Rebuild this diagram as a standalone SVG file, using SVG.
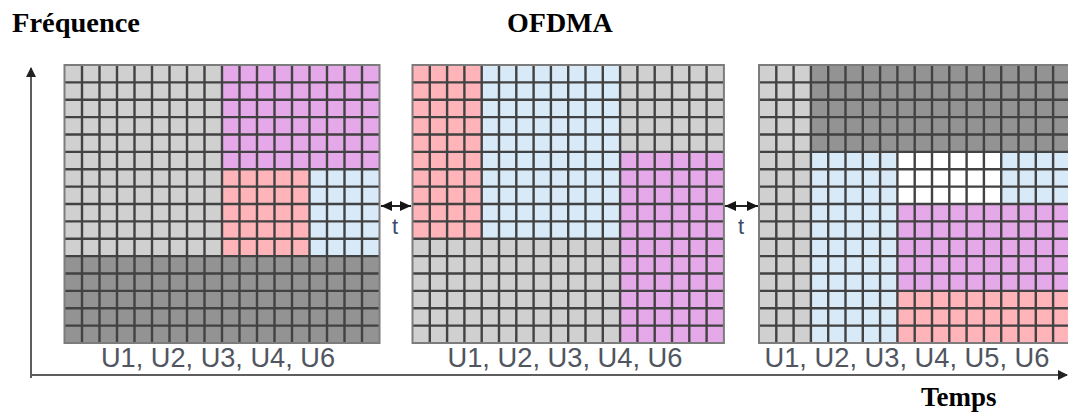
<svg xmlns="http://www.w3.org/2000/svg" width="1068" height="412" viewBox="0 0 1068 412">
<style>
.title{font-family:"Liberation Serif","Times New Roman",serif;font-weight:bold;fill:#000}
.lbl{font-family:"Liberation Sans",Arial,sans-serif;font-size:27px;fill:#50555f}
.t{font-family:"Liberation Sans",Arial,sans-serif;font-size:22px;fill:#3b4a6b}
.lg{fill:#d0d0d0}.dg{fill:#939393}.mg{fill:#e5a9e9}.pk{fill:#feb4b8}.lb{fill:#d8eaf8}.wh{fill:#fff}
.gl{fill:none;stroke:#424242;stroke-width:2.4}
.bd{fill:none;stroke:#7c7c7c;stroke-width:2}
.ax{fill:none;stroke:#5e5e5e;stroke-width:2}
.ta{fill:none;stroke:#222;stroke-width:2}
</style>
<defs>
<marker id="ah" viewBox="0 0 10 10" refX="9" refY="5" markerWidth="10" markerHeight="10" markerUnits="userSpaceOnUse" orient="auto-start-reverse"><path d="M0,0L10,5L0,10z" fill="#222"/></marker>
<marker id="th" viewBox="0 0 10 10" refX="10" refY="5" markerWidth="14" markerHeight="11" markerUnits="userSpaceOnUse" orient="auto-start-reverse"><path d="M0,0.5L10,5L0,9.5z" fill="#151515"/></marker>
</defs>
<rect width="1068" height="412" fill="#fff"/>
<text class="title" x="12" y="32" font-size="28" textLength="128" lengthAdjust="spacingAndGlyphs">Fréquence</text>
<text class="title" x="507" y="32" font-size="28">OFDMA</text>
<text class="title" x="921" y="406" font-size="27">Temps</text>

<g id="frame1">
<rect class="lg" x="64.5" y="65" width="157.5" height="191.1"/>
<rect class="mg" x="222" y="65" width="157.5" height="104.25"/>
<rect class="pk" x="222" y="169.25" width="87.5" height="86.9"/>
<rect class="lb" x="309.5" y="169.25" width="70" height="86.9"/>
<rect class="dg" x="64.5" y="256.1" width="315" height="86.9"/>
<path class="gl" d="M82,65V343M99.5,65V343M117,65V343M134.5,65V343M152,65V343M169.5,65V343M187,65V343M204.5,65V343M222,65V343M239.5,65V343M257,65V343M274.5,65V343M292,65V343M309.5,65V343M327,65V343M344.5,65V343M362,65V343M64.5,82.4H379.5M64.5,99.8H379.5M64.5,117.1H379.5M64.5,134.5H379.5M64.5,151.9H379.5M64.5,169.3H379.5M64.5,186.6H379.5M64.5,204H379.5M64.5,221.4H379.5M64.5,238.8H379.5M64.5,256.1H379.5M64.5,273.5H379.5M64.5,290.9H379.5M64.5,308.3H379.5M64.5,325.6H379.5"/>
<rect class="bd" x="64.5" y="65" width="315" height="278"/>
<text class="lbl" x="218" y="367" text-anchor="middle" textLength="234" lengthAdjust="spacingAndGlyphs">U1, U2, U3, U4, U6</text>
</g>

<g id="frame2">
<rect class="pk" x="412.5" y="65" width="69.2" height="173.8"/>
<rect class="lb" x="481.7" y="65" width="138.4" height="173.8"/>
<rect class="lg" x="412.5" y="238.8" width="207.6" height="104.2"/>
<rect class="lg" x="620.1" y="65" width="103.8" height="86.9"/>
<rect class="mg" x="620.1" y="151.9" width="103.8" height="191.1"/>
<path class="gl" d="M429.8,65V343M447.1,65V343M464.4,65V343M481.7,65V343M499,65V343M516.3,65V343M533.6,65V343M550.9,65V343M568.2,65V343M585.5,65V343M602.8,65V343M620.1,65V343M637.4,65V343M654.7,65V343M672,65V343M689.3,65V343M706.6,65V343M412.5,82.4H723.9M412.5,99.8H723.9M412.5,117.1H723.9M412.5,134.5H723.9M412.5,151.9H723.9M412.5,169.3H723.9M412.5,186.6H723.9M412.5,204H723.9M412.5,221.4H723.9M412.5,238.8H723.9M412.5,256.1H723.9M412.5,273.5H723.9M412.5,290.9H723.9M412.5,308.3H723.9M412.5,325.6H723.9"/>
<rect class="bd" x="412.5" y="65" width="311.4" height="278"/>
<text class="lbl" x="565" y="367" text-anchor="middle" textLength="235" lengthAdjust="spacingAndGlyphs">U1, U2, U3, U4, U6</text>
</g>

<g id="frame3">
<rect class="lg" x="759" y="65" width="51.9" height="278"/>
<rect class="dg" x="810.9" y="65" width="259.5" height="86.9"/>
<rect class="lb" x="810.9" y="151.9" width="86.5" height="191.1"/>
<rect class="wh" x="897.4" y="151.9" width="103.8" height="52.1"/>
<rect class="lb" x="1001.2" y="151.9" width="69.2" height="52.1"/>
<rect class="mg" x="897.4" y="204" width="173" height="86.9"/>
<rect class="pk" x="897.4" y="290.9" width="173" height="52.1"/>
<path class="gl" d="M776.3,65V343M793.6,65V343M810.9,65V343M828.2,65V343M845.5,65V343M862.8,65V343M880.1,65V343M897.4,65V343M914.7,65V343M932,65V343M949.3,65V343M966.6,65V343M983.9,65V343M1001.2,65V343M1018.5,65V343M1035.8,65V343M1053.1,65V343M759,82.4H1070.4M759,99.8H1070.4M759,117.1H1070.4M759,134.5H1070.4M759,151.9H1070.4M759,169.3H1070.4M759,186.6H1070.4M759,204H1070.4M759,221.4H1070.4M759,238.8H1070.4M759,256.1H1070.4M759,273.5H1070.4M759,290.9H1070.4M759,308.3H1070.4M759,325.6H1070.4"/>
<rect class="bd" x="759" y="65" width="311.4" height="278"/>
<text class="lbl" x="907" y="367" text-anchor="middle" textLength="285" lengthAdjust="spacingAndGlyphs">U1, U2, U3, U4, U5, U6</text>
</g>

<g id="connectors">
<path class="ax" d="M31,378V68" marker-end="url(#ah)"/>
<path class="ax" d="M30,375H1067" marker-end="url(#ah)"/>
<path class="ta" d="M381,206H411" marker-start="url(#th)" marker-end="url(#th)"/>
<path class="ta" d="M725,206H758" marker-start="url(#th)" marker-end="url(#th)"/>
<text class="t" x="395" y="234" text-anchor="middle">t</text>
<text class="t" x="741" y="234" text-anchor="middle">t</text>
</g>
</svg>
